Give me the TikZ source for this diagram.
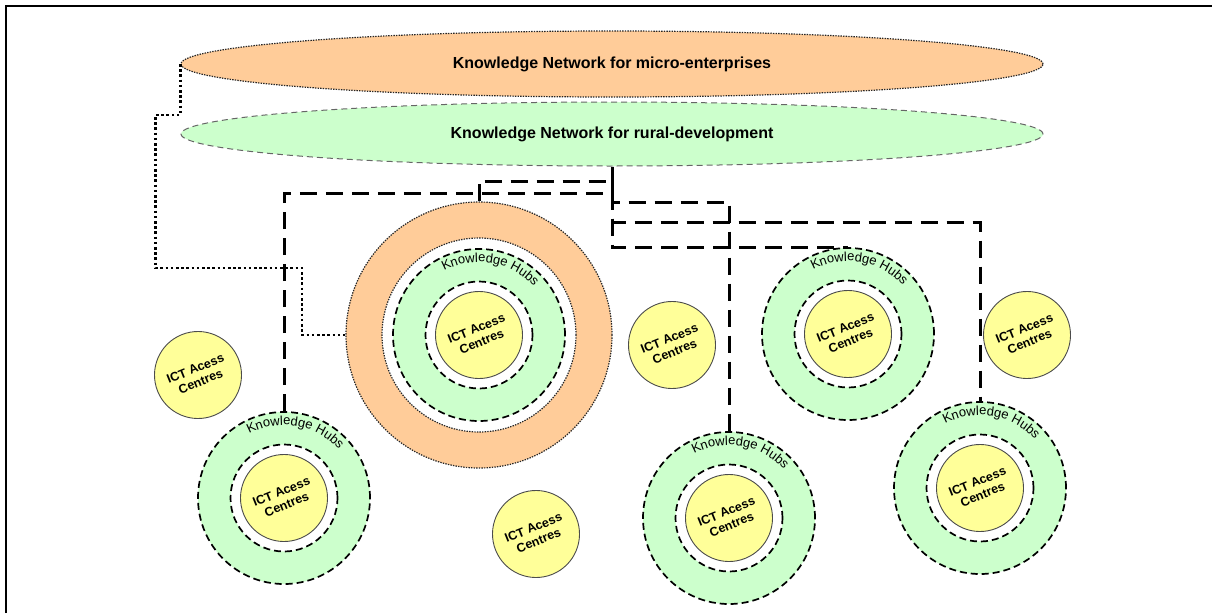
\documentclass[tikz,border=0pt]{standalone}
\usepackage{fontspec}
\setmainfont{Liberation Sans}
\usetikzlibrary{shapes.geometric,decorations.text,calc}
\definecolor{kporange}{RGB}{255,204,153}
\definecolor{kpgreen}{RGB}{204,255,204}
\definecolor{kpyellow}{RGB}{255,255,153}
\newcommand\kptitlefont{\fontsize{16}{19}\selectfont\bfseries}
\newcommand\kpictfont{\fontsize{12.5}{14}\selectfont\bfseries}
\newcommand\kphubfont{\fontsize{13}{15}\selectfont}
\tikzset{
  netorange/.style={ellipse, draw=black!85, line width=1.2pt, dash pattern=on 1.4pt off 1.2pt, fill=kporange, minimum width=862pt, minimum height=66pt, inner sep=0pt, font=\kptitlefont},
  netgreen/.style={ellipse, draw=black!60, line width=1pt, dash pattern=on 6pt off 4pt, fill=kpgreen, minimum width=862pt, minimum height=64pt, inner sep=0pt, font=\kptitlefont},
  orangering/.style={circle, draw=black!85, line width=1.2pt, dash pattern=on 1.4pt off 1.2pt, fill=kporange, minimum size=266pt, inner sep=0pt},
  whitering/.style={circle, draw=black!85, line width=1.2pt, dash pattern=on 1.4pt off 1.2pt, fill=white, minimum size=194pt, inner sep=0pt},
  hubring/.style={circle, draw=black, line width=1.7pt, dash pattern=on 7pt off 4pt, fill=kpgreen, minimum size=172pt, inner sep=0pt},
  hubgap/.style={circle, draw=black, line width=1.7pt, dash pattern=on 7pt off 4pt, fill=white, minimum size=107pt, inner sep=0pt},
  ict/.style={circle, draw=black!70, line width=0.9pt, fill=kpyellow, minimum size=87pt, inner sep=0pt, align=center, rotate=22, font=\kpictfont},
  hublabel/.style={decorate, font=\kphubfont, decoration={text along path, text align=center, text={|\kphubfont|Knowledge Hubs}}},
  conn/.style={draw=black, line width=3pt, dash pattern=on 17pt off 9pt},
  dotconn/.style={draw=black, line width=2.8pt, dash pattern=on 2.6pt off 2.6pt},
  framel/.style={draw=black, line width=2.2pt},
}
\begin{document}
\begin{tikzpicture}[x=1pt,y=1pt]
\useasboundingbox (0,0) rectangle (1212,-613);
\draw[framel] (6,-613) -- (6,-6) -- (1212,-6);

\node[netorange] (kn1) at (612,-64) {Knowledge Network for micro-enterprises};
\node[netgreen] (kn2) at (612,-134) {Knowledge Network for rural-development};

\node[orangering] (ring) at (479,-335) {};
\node[whitering] (ringin) at (ring) {};

\foreach \n/\x/\y in {hA/284/498, hB/479/335, hC/848/334, hD/729/518, hE/980/488} {
  \node[hubring] (\n) at (\x,-\y) {};
  \node[hubgap] (\n-gap) at (\n) {};
  \node[ict] (\n-ict) at (\n) {ICT Acess\\Centres};
  \path[hublabel] ($(\n)+(135:73pt)$) arc[start angle=135, end angle=25, radius=73pt];
}

\node[ict] (s1) at (198,-375) {ICT Acess\\Centres};
\node[ict] (s2) at (672,-345) {ICT Acess\\Centres};
\node[ict] (s3) at (1027,-335) {ICT Acess\\Centres};
\node[ict] (s4) at (536,-534) {ICT Acess\\Centres};

% dashed connectors from the rural-development network
\draw[conn] (ring.north) |- (612,-181) -- (kn2.south);
\draw[conn] (kn2.south) |- (hC.north);
\draw[conn] (hA.north) |- (612,-193) -- (kn2.south);
\draw[conn] (kn2.south) -- (612,-202) -| (hD.north);
\draw[conn] (kn2.south) -- (612,-222) -| (hE.north);

% dotted connector from the micro-enterprise network
\draw[dotconn] (kn1.west) -- ++(0,-51) -- ++(-25,0) |- (302,-268) |- (ring.west);
\end{tikzpicture}
\end{document}
